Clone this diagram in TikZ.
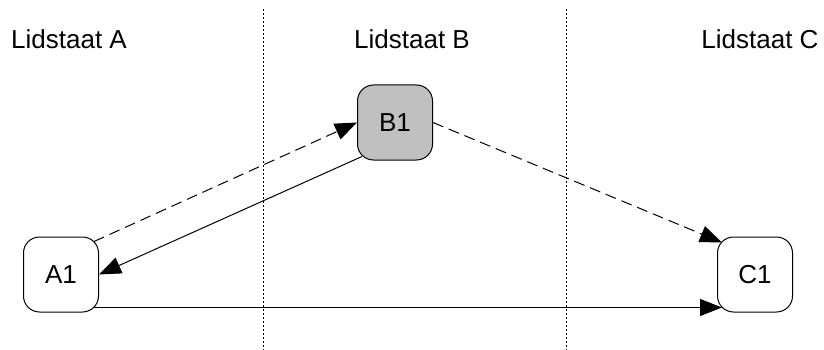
\documentclass[tikz,border=0pt]{standalone}
\usepackage{fontspec}
\setmainfont{Liberation Sans}
\usetikzlibrary{arrows.meta,calc}
\usetikzlibrary{positioning,shapes}
\definecolor{lidgrijs}{RGB}{192,192,192}
\tikzstyle{line}=[-, line width=1pt]
\tikzstyle{pijl}=[line, -{Triangle[length=22pt,width=17pt]}]
\tikzstyle{grens}=[line width=0.8pt, dash pattern=on 2pt off 2pt]
\tikzstyle{lid}=[rectangle, draw, line width=1pt, fill=white, text=black,
		minimum width=75pt, minimum height=75pt, rounded corners=16pt]
\tikzstyle{kop}=[text=black, anchor=base]

\begin{document}
\begin{tikzpicture}[x=1pt,y=-1pt,font=\fontsize{26}{31}\selectfont]

    \useasboundingbox (0,0) rectangle (824,350);

    % grenzen tussen de lidstaten
    \draw[grens] (263,9) -- (263,350);
    \draw[grens] (566,9) -- (566,350);

    \node (KopA) [kop] at (69,49) {Lidstaat A};
    \node (KopB) [kop] at (412,49) {Lidstaat B};
    \node (KopC) [kop] at (760,49) {Lidstaat C};

    \node (A1) [lid] at (61,274.5) {A1};
    \node (B1) [lid, fill=lidgrijs] at (395,122.5) {B1};
    \node (C1) [lid] at (755,274.5) {C1};

    \draw[pijl, dash pattern=on 11pt off 6pt]
        ($(A1.north east)+(-5,5)$) -- (B1.west);
    \draw[pijl] ($(B1.south west)+(5,-4)$) -- (A1.east);
    \draw[pijl, dash pattern=on 11pt off 6pt]
        (B1.east) -- ($(C1.north west)+(5,6)$);
    \draw[pijl] ($(A1.south east)+(-5,-5)$) -- ($(C1.south west)+(5,-5)$);

  \end{tikzpicture}
\end{document}
